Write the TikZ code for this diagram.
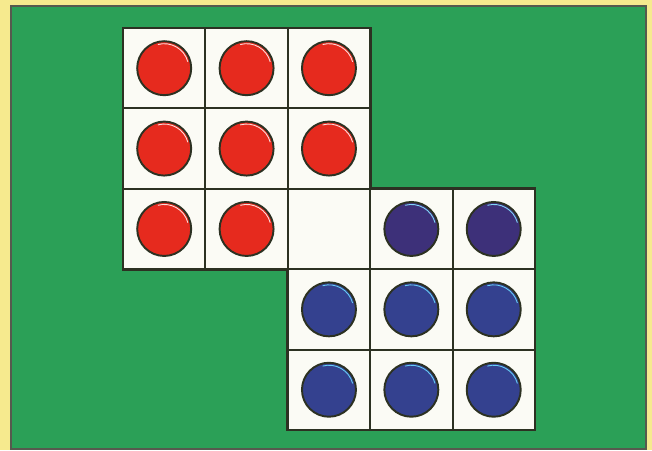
\documentclass[tikz,border=0pt]{standalone}
\usepackage{tikz}
\usetikzlibrary{backgrounds,calc,positioning}
\definecolor{BoardYellow}{HTML}{F6EA8E}
\definecolor{BoardGreen}{HTML}{2BA057}
\definecolor{GridInk}{HTML}{2C3122}
\definecolor{CellWhite}{HTML}{FBFBF5}
\definecolor{DiscRed}{HTML}{E62A1E}
\definecolor{DiscBlue}{HTML}{34418F}
\definecolor{DiscPurple}{HTML}{3D3079}
\tikzset{
  cell/.style={draw=GridInk,line width=1.1pt,outer sep=0pt,
    inner sep=0pt,minimum width=1.648cm,minimum height=1.608cm},
  disc/.style={circle,draw=GridInk,line width=1.1pt,inner sep=0pt,minimum size=1.08cm,
    path picture={\draw[line width=0.5pt,draw=#1]
      ($(path picture bounding box.center)+(15:0.49cm)$) arc[start angle=15,end angle=105,radius=0.49cm];}},
  reddisc/.style={disc=white!85!DiscRed,fill=DiscRed},
  bluedisc/.style={disc=cyan!60!white,fill=DiscBlue},
  purpledisc/.style={disc=cyan!50!white,fill=DiscPurple},
  boardedge/.style={draw=GridInk,line width=1.6pt,line join=miter}
}
\begin{document}
\begin{tikzpicture}[x=0.02cm,y=-0.02cm]
      \begin{pgfonlayer}{background}
        \useasboundingbox[fill=BoardYellow] (0,0) rectangle (652,450);
        \draw[draw=GridInk!80,line width=1.2pt,fill=BoardGreen] (11,6) rectangle (646,449);
      \end{pgfonlayer}

      % upper board
      \node[cell,anchor=north west] (c11) at (123,28) {};
      \node[cell,right=0pt of c11] (c12) {};
      \node[cell,right=0pt of c12] (c13) {};
      \node[cell,below=0pt of c11] (c21) {};
      \node[cell,right=0pt of c21] (c22) {};
      \node[cell,right=0pt of c22] (c23) {};
      \node[cell,below=0pt of c21] (c31) {};
      \node[cell,right=0pt of c31] (c32) {};
      \node[cell,right=0pt of c32] (c33) {};
      % lower board
      \node[cell,right=0pt of c33] (c34) {};
      \node[cell,right=0pt of c34] (c35) {};
      \node[cell,below=0pt of c33] (c43) {};
      \node[cell,right=0pt of c43] (c44) {};
      \node[cell,right=0pt of c44] (c45) {};
      \node[cell,below=0pt of c43] (c53) {};
      \node[cell,right=0pt of c53] (c54) {};
      \node[cell,right=0pt of c54] (c55) {};
      \begin{pgfonlayer}{background}
        \fill[CellWhite] (c11.north west) -- (c13.north east) -- (c33.north east)
          -- (c35.north east) -- (c55.south east) -- (c53.south west)
          -- (c33.south west) -- (c31.south west) -- cycle;
      \end{pgfonlayer}
      \draw[boardedge] (c11.north west) -- (c13.north east) -- (c33.north east)
        -- (c35.north east) -- (c55.south east) -- (c53.south west)
        -- (c33.south west) -- (c31.south west) -- cycle;

      % discs
      \node[reddisc] (r11) at (c11) {};
      \node[reddisc] (r12) at (c12) {};
      \node[reddisc] (r13) at (c13) {};
      \node[reddisc] (r21) at (c21) {};
      \node[reddisc] (r22) at (c22) {};
      \node[reddisc] (r23) at (c23) {};
      \node[reddisc] (r31) at (c31) {};
      \node[reddisc] (r32) at (c32) {};
      \node[purpledisc] (b34) at (c34) {};
      \node[purpledisc] (b35) at (c35) {};
      \node[bluedisc] (b43) at (c43) {};
      \node[bluedisc] (b44) at (c44) {};
      \node[bluedisc] (b45) at (c45) {};
      \node[bluedisc] (b53) at (c53) {};
      \node[bluedisc] (b54) at (c54) {};
      \node[bluedisc] (b55) at (c55) {};
\end{tikzpicture}
\end{document}
